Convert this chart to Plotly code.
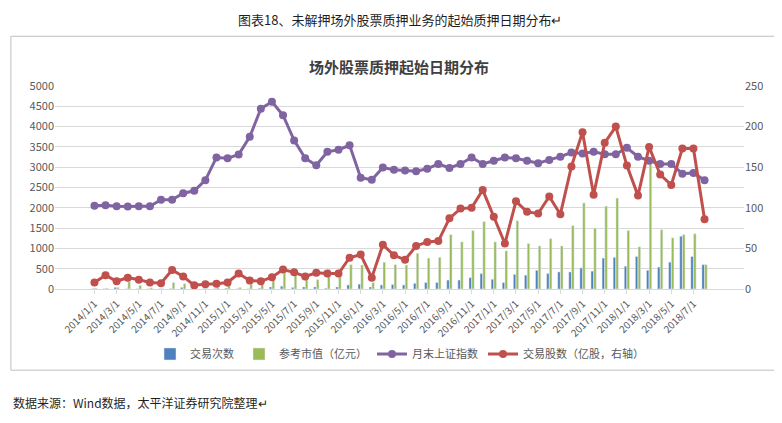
import pandas as pd
import plotly.graph_objects as go

# Monthly data, 2014/1 - 2018/8
dates = [f"{y}/{m}/1" for y in range(2014, 2019) for m in range(1, 13)][:56]

trade_count = [10, 5, 40, 5, 5, 5, 5, 10, 40, 5, 10, 10, 20, 5, 5, 20, 50, 70, 40, 50,
               50, 20, 50, 100, 120, 50, 100, 110, 100,
               140, 160, 160, 220, 220, 280, 380, 240, 160, 360, 340, 460, 380, 420,
               420, 520, 440, 760, 780, 560, 800, 460, 540, 660, 1300, 800, 600]
market_value = [20, 20, 40, 180, 90, 30, 10, 160, 130, 20, 10, 40, 100, 40, 120, 250,
                320, 390, 350, 230, 230, 480, 300, 600, 590, 160, 660, 600, 590,
                880, 760, 780, 1340, 1160, 1440, 1660, 1160, 940, 1680, 1120, 1060,
                1240, 1060, 1560, 2120, 1500, 2040, 2240, 1440, 1040, 3080, 1460, 1260,
                1340, 1360, 600]
sh_index = [2050, 2060, 2040, 2030, 2040, 2040, 2200, 2200, 2360, 2420, 2680, 3240,
            3220, 3310, 3750, 4440, 4610, 4280, 3660, 3220, 3050, 3380, 3430, 3540,
            2740, 2690, 2990, 2940, 2920,
            2900, 2960, 3080, 2980, 3080, 3240, 3080, 3160, 3240, 3220, 3160, 3100,
            3180, 3260, 3360, 3340, 3380, 3320, 3320, 3480, 3260, 3160, 3080, 3080,
            2840, 2860, 2680]
shares = [8, 17, 9.5, 14, 11.5, 8, 7, 23.5, 15.5, 4.5, 6, 6.5, 8, 19, 10.5, 9.5, 14.5,
          24, 20.5, 15.5, 20, 19, 19, 38.5, 42.5, 14, 54.5, 41.5, 36,
          53, 58, 59, 87, 99, 100, 122, 89, 56, 108, 95, 93, 114, 92, 151, 193, 116,
          180, 200, 152, 115, 175, 141, 128, 173, 173, 86]

font = "Noto Sans CJK SC"
fig = go.Figure()
fig.add_trace(go.Bar(x=dates, y=trade_count, name="交易次数", marker_color="#4e81bd"))
fig.add_trace(go.Bar(x=dates, y=market_value, name="参考市值（亿元）", marker_color="#9bbb59"))
fig.add_trace(go.Scatter(x=dates, y=sh_index, name="月末上证指数", mode="lines+markers",
                         line=dict(color="#8064a2", width=3), marker=dict(size=8)))
fig.add_trace(go.Scatter(x=dates, y=shares, name="交易股数（亿股，右轴）", yaxis="y2",
                         mode="lines+markers", line=dict(color="#c0504d", width=3),
                         marker=dict(size=8)))

fig.update_layout(
    width=782, height=423, paper_bgcolor="white", plot_bgcolor="white",
    font=dict(family=font, size=11, color="#595959"),
    margin=dict(l=47, r=46, t=78, b=142),
    bargap=0.5, bargroupgap=0.1,
    title=dict(text="<b>场外股票质押起始日期分布</b>", x=0.5, y=0.87,
               font=dict(size=15, color="#404040")),
    xaxis=dict(type="category", tickvals=dates[::2], tickangle=-45,
               tickfont=dict(size=10), showline=True, linecolor="#d9d9d9", ticks="outside",
               ticklen=4, tickcolor="#d9d9d9"),
    yaxis=dict(range=[0, 5000], dtick=500, gridcolor="#d9d9d9", zeroline=False),
    yaxis2=dict(range=[0, 250], dtick=50, overlaying="y", side="right", showgrid=False,
                zeroline=False),
    legend=dict(orientation="h", x=0.5, xanchor="center", y=-0.32, yanchor="middle",
                font=dict(size=11)),
    shapes=[dict(type="rect", xref="paper", yref="paper", x0=-0.064, x1=1.061,
                 y0=-0.40, y1=1.245, line=dict(color="#bfbfbf", width=1))],
    annotations=[
        dict(text="图表18、未解押场外股票质押业务的起始质押日期分布↵", xref="paper",
             yref="paper", x=0.5, y=1.33, yanchor="middle", showarrow=False,
             font=dict(size=13, color="#1f1f1f")),
        dict(text="数据来源：Wind数据，太平洋证券研究院整理↵", xref="paper", yref="paper",
             x=-0.064, xanchor="left", y=-0.56, yanchor="middle", showarrow=False,
             font=dict(size=12, color="#1f1f1f")),
    ],
)
fig.write_html("out.html")
